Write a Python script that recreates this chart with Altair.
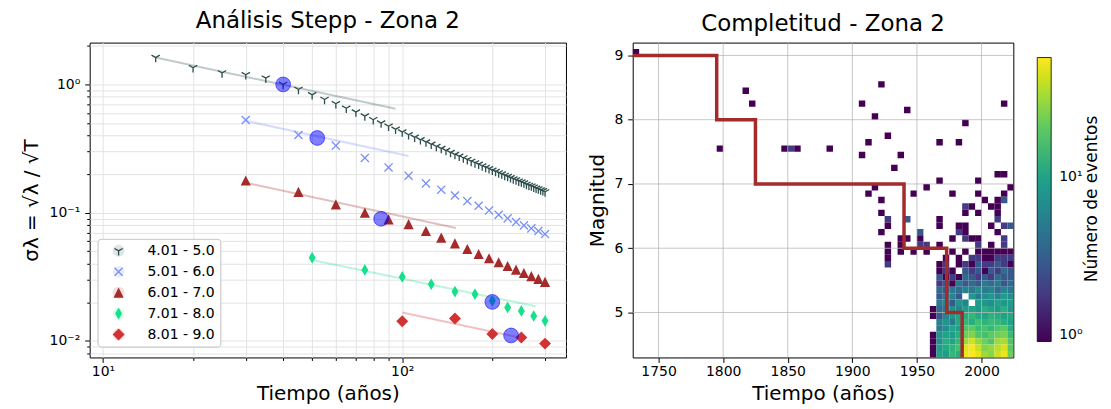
import altair as alt
import pandas as pd

FONT = "DejaVu Sans"

# ---------------- Left panel data (Stepp analysis) ----------------
series_names = ["4.01 - 5.0", "5.01 - 6.0", "6.01 - 7.0", "7.01 - 8.0", "8.01 - 9.0"]
series_colors = ["#2f4f4f", "#7890f6", "#a52a2a", "#16e08c", "#d23232"]
fit_colors = ["#2f4f4f", "#7890f6", "#a52a2a", "#16e08c", "#d23232"]

t1 = [15, 20, 25, 30, 35, 40, 45, 50, 55, 60, 65, 70, 75, 80, 85, 90, 95, 100,
      105, 110, 115, 120, 125, 130, 135, 140, 145, 150, 155, 160, 165, 170, 175,
      180, 185, 190, 195, 200, 205, 210, 215, 220, 225, 230, 235, 240, 245, 250,
      255, 260, 265, 270, 275, 280, 285, 290, 295, 300]
s1 = [1.62, 1.35, 1.23, 1.19, 1.12, 1.00, 0.914, 0.830, 0.764, 0.707, 0.652,
      0.609, 0.567, 0.531, 0.500, 0.472, 0.447, 0.425, 0.405, 0.387, 0.370,
      0.355, 0.341, 0.328, 0.316, 0.305, 0.294, 0.284, 0.275, 0.267, 0.259,
      0.251, 0.244, 0.238, 0.231, 0.225, 0.220, 0.214, 0.209, 0.204, 0.200,
      0.195, 0.191, 0.187, 0.183, 0.180, 0.176, 0.173, 0.170, 0.166, 0.163,
      0.161, 0.158, 0.155, 0.153, 0.150, 0.148, 0.145]
t2 = [30, 45, 60, 75, 90, 105, 120, 135, 150, 165, 180, 195, 210, 225, 240, 255, 270, 285, 300]
s2 = [0.528, 0.403, 0.333, 0.267, 0.225, 0.194, 0.169, 0.151, 0.136, 0.123,
      0.113, 0.104, 0.0962, 0.0901, 0.0844, 0.0795, 0.0753, 0.0718, 0.068]
t3 = [30, 45, 60, 75, 90, 105, 120, 135, 150, 165, 180, 195, 210, 225, 240, 255, 270, 285, 300]
s3 = [0.178, 0.145, 0.116, 0.100, 0.0885, 0.0814, 0.0718, 0.0637, 0.0575, 0.052,
      0.0475, 0.044, 0.041, 0.0383, 0.0359, 0.0338, 0.0319, 0.0304, 0.0288]
t4 = [50, 75, 100, 125, 150, 175, 200, 225, 250, 275, 300]
s4 = [0.0445, 0.0357, 0.0315, 0.0276, 0.0242, 0.0231, 0.0205, 0.0182, 0.0171, 0.0156, 0.0143]
t5 = [100, 150, 200, 250, 300]
s5 = [0.0142, 0.0149, 0.0113, 0.0106, 0.0095]

# completeness points (blue circles)
circ_t = [40, 52, 85, 200, 231]
circ_s = [1.0, 0.382, 0.0895, 0.0201, 0.0110]

# fitted 1/sqrt(T) lines: start and end
fit_t0 = [15, 30, 30, 50, 100]
fit_s0 = [1.62, 0.52, 0.171, 0.0427, 0.0166]
fit_t1 = [95, 105, 151, 279, 246]
fit_s1 = [0.645, 0.276, 0.0758, 0.0186, 0.0106]

x_ticks_left = [10, 20, 30, 40, 50, 60, 70, 80, 90, 100, 200, 300]
y_ticks_left = [0.008, 0.009, 0.01, 0.02, 0.03, 0.04, 0.05, 0.06, 0.07, 0.08, 0.09,
                0.1, 0.2, 0.3, 0.4, 0.5, 0.6, 0.7, 0.8, 0.9, 1, 2]

# marker shapes (filled svg paths in the -1..1 box): tri_down, x, triangle, thin diamond, diamond
shape_paths = [
    "M0.11,0.8L0.11,0.064L0.748,-0.305L0.638,-0.495L0,-0.127L-0.638,-0.495L-0.748,-0.305L-0.11,0.064L-0.11,0.8Z",
    "M0.757,-0.601L0.156,0L0.757,0.601L0.601,0.757L0,0.156L-0.601,0.757L-0.757,0.601L-0.156,0L-0.757,-0.601L-0.601,-0.757L0,-0.156L0.601,-0.757Z",
    "M0,-0.85L0.85,0.85L-0.85,0.85Z",
    "M0,-0.98L0.58,0L0,0.98L-0.58,0Z",
    "M0,-1L1,0L0,1L-1,0Z",
]

# ---------------- Right panel data (completeness) ----------------
sp_year = [1730, 1795, 1815, 1820, 1845, 1850, 1855, 1880, 1905, 1905, 1910, 1910,
           1915, 1915, 1920, 1920, 1920, 1920, 1925, 1925, 1925, 1925, 1925, 1925,
           1925, 1930, 1935, 1935, 1935, 1935, 1940, 1940, 1940, 1945, 1945, 1950,
           1950, 1950, 1955, 1955, 1955, 1965, 1965, 1965, 1965, 1965, 1975, 1975,
           1980, 1980, 1980, 1985, 1985, 1985, 1985, 1985, 1985, 1990, 1990, 1995,
           1995, 1995, 1995, 1995, 2000, 2005, 2005, 2005, 2010, 2010, 2010, 2010,
           2010, 2010, 2015, 2015, 2015, 2015, 2015, 2015, 2015, 2020, 2020]
sp_mag = [9.0, 7.5, 8.4, 8.2, 7.5, 7.5, 7.5, 7.5, 8.2, 7.4, 7.6, 6.8,
          8.0, 6.9, 8.5, 6.7, 6.5, 6.2, 7.7, 6.4, 6.3, 6.0, 5.9, 5.8,
          5.7, 7.2, 7.4, 6.1, 6.0, 5.9, 8.1, 6.4, 6.1, 6.8, 5.9, 6.2,
          6.1, 6.0, 6.9, 6.0, 5.9, 7.6, 7.0, 6.4, 6.3, 6.0, 6.8, 6.1,
          7.6, 6.3, 6.2, 7.9, 6.6, 6.5, 6.3, 6.2, 6.1, 6.6, 6.1, 7.0,
          6.8, 6.5, 6.1, 6.0, 6.7, 6.6, 6.3, 6.0, 7.1, 6.7, 6.6, 6.5,
          6.4, 6.2, 8.2, 7.1, 6.8, 6.7, 6.3, 6.1, 6.0, 6.9, 6.3]
sp_count = [1, 1, 1, 1, 1, 2, 1, 1, 1, 1, 1, 1,
            1, 1, 1, 1, 1, 1, 1, 2, 1, 1, 1, 1,
            2, 1, 1, 1, 1, 1, 1, 3, 1, 1, 1, 3,
            1, 2, 1, 2, 1, 1, 1, 1, 1, 1, 1, 1,
            1, 1, 2, 1, 2, 1, 1, 1, 2, 1, 1, 1,
            1, 1, 1, 2, 1, 1, 1, 1, 1, 1, 1, 1,
            2, 1, 1, 1, 1, 3, 2, 2, 2, 1, 3]

dense_years = [1960, 1965, 1970, 1975, 1980, 1985, 1990, 1995, 2000, 2005, 2010, 2015, 2020]
dense_mags = [5.9, 5.8, 5.7, 5.6, 5.5, 5.4, 5.3, 5.2, 5.1, 5.0, 4.9, 4.8, 4.7, 4.6, 4.5, 4.4, 4.3]
dense_counts = [
    [0, 0, 0, 1, 0, 1, 0, 1, 1, 1, 1, 1, 1],
    [0, 0, 1, 0, 1, 0, 2, 2, 1, 1, 2, 2, 2],
    [0, 1, 2, 0, 1, 2, 1, 3, 2, 2, 3, 2, 1],
    [0, 1, 2, 1, 0, 3, 2, 3, 1, 3, 2, 4, 3],
    [0, 3, 1, 2, 1, 4, 3, 2, 3, 2, 4, 3, 3],
    [0, 2, 3, 1, 5, 3, 4, 3, 5, 4, 5, 3, 4],
    [0, 4, 3, 5, 4, 6, 5, 7, 5, 6, 4, 6, 5],
    [0, 3, 5, 6, 3, 0, 8, 5, 7, 8, 6, 9, 7],
    [0, 5, 6, 3, 8, 6, 0, 9, 8, 7, 10, 8, 9],
    [1, 4, 5, 7, 6, 9, 10, 8, 12, 10, 9, 12, 8],
    [1, 3, 6, 8, 10, 12, 14, 11, 10, 13, 12, 10, 11],
    [0, 6, 8, 5, 11, 14, 12, 16, 13, 15, 14, 12, 10],
    [0, 5, 7, 10, 9, 18, 20, 15, 17, 14, 18, 20, 12],
    [1, 8, 10, 9, 12, 22, 25, 18, 16, 20, 22, 24, 15],
    [1, 7, 12, 10, 14, 30, 40, 28, 22, 18, 30, 32, 18],
    [1, 9, 11, 13, 16, 45, 50, 38, 25, 28, 35, 42, 20],
    [1, 10, 9, 14, 12, 48, 53, 45, 30, 26, 40, 48, 22],
]
bin_years = 5
bin_mag = 0.1

comp_years = [1730, 1795, 1825, 1940, 1973, 1985]
comp_mags = [9, 8, 7, 6, 5, 4.0]

grid_years = [1750, 1800, 1850, 1900, 1950, 2000]
grid_mags = [5, 6, 7, 8, 9]
cbar_label = "Número de eventos"

# ---------------- Build tables ----------------
rows = []
for name, ts, ss in zip(series_names, [t1, t2, t3, t4, t5], [s1, s2, s3, s4, s5]):
    for t, s in zip(ts, ss):
        rows.append({"series": name, "T": t, "sigma": s})
pts = pd.DataFrame(rows)
circ = pd.DataFrame({"T": circ_t, "sigma": circ_s})

xs = alt.Scale(type="log", domain=[9.03, 352.4], nice=False)
ys = alt.Scale(type="log", domain=[0.00741, 2.12], nice=False)

sup_x = "datum.value == 10 ? '10\u00b9' : (datum.value == 100 ? '10\u00b2' : '')"
sup_y = "datum.value == 1 ? '10\u2070' : (datum.value == 0.1 ? '10\u207b\u00b9' : (datum.value == 0.01 ? '10\u207b\u00b2' : ''))"

xaxis = alt.Axis(values=x_ticks_left, labelExpr=sup_x, title="Tiempo (años)",
                 grid=True, gridColor="#e3e3e3", domain=False, tickColor="black",
                 tickSize={"condition": {"test": "datum.value == 10 || datum.value == 100", "value": 5}, "value": 3},
                 labelFontSize=14, titleFontSize=20, labelPadding=2, titlePadding=5,
                 labelFlush=False, labelOverlap=False)
yaxis = alt.Axis(values=y_ticks_left, labelExpr=sup_y, title="σλ = √λ / √T",
                 grid=True, gridColor="#e3e3e3", domain=False, tickColor="black",
                 tickSize={"condition": {"test": "datum.value == 1 || datum.value == 0.1 || datum.value == 0.01", "value": 5}, "value": 3},
                 labelFontSize=14, titleFontSize=20, labelPadding=5, titlePadding=8,
                 labelFlush=False, labelOverlap=False)

# legend symbol colours, one per series (evaluated per legend entry)
fill_expr = "'%s'" % series_colors[0]
for n, c in zip(series_names[1:], series_colors[1:]):
    fill_expr = "datum.value === '%s' ? '%s' : (%s)" % (n, c, fill_expr)

leg = alt.Legend(title=None, orient="none", legendX=8, legendY=197,
                 fillColor="rgba(255,255,255,0.85)", strokeColor="#cccccc",
                 cornerRadius=3, padding=5, rowPadding=7, labelFontSize=14,
                 labelFont=FONT, symbolOffset=9, labelOffset=22, symbolSize=144,
                 symbolStrokeWidth=0, symbolOpacity=1,
                 symbolFillColor=alt.ExprRef(fill_expr))

layers = []
for i in range(5):
    fd = pd.DataFrame({"T": [fit_t0[i], fit_t1[i]], "sigma": [fit_s0[i], fit_s1[i]]})
    layers.append(alt.Chart(fd).mark_line(color=fit_colors[i], opacity=0.3, strokeWidth=2).encode(
        x=alt.X("T:Q", scale=xs, axis=xaxis), y=alt.Y("sigma:Q", scale=ys, axis=yaxis)))

points = alt.Chart(pts).mark_point(filled=True, opacity=1, strokeWidth=0, size=144).encode(
    x=alt.X("T:Q", scale=xs, axis=xaxis),
    y=alt.Y("sigma:Q", scale=ys, axis=yaxis),
    color=alt.Color("series:N", scale=alt.Scale(range=series_colors), legend=leg),
    shape=alt.Shape("series:N", scale=alt.Scale(range=shape_paths), legend=leg),
)
circles = alt.Chart(circ).mark_circle(size=220, fill="#0000ff", fillOpacity=0.5,
                                      stroke="#0000ff", strokeOpacity=0.55, strokeWidth=1, opacity=1).encode(
    x=alt.X("T:Q", scale=xs, axis=xaxis), y=alt.Y("sigma:Q", scale=ys, axis=yaxis))

left = alt.layer(*layers, points, circles).properties(
    width=478, height=316, title="Análisis Stepp - Zona 2")

# right
hrows = []
for y, m, c in zip(sp_year, sp_mag, sp_count):
    hrows.append({"y0": y, "m0": m, "count": c})
for ri, m in enumerate(dense_mags):
    for ci, y in enumerate(dense_years):
        c = dense_counts[ri][ci]
        if c > 0:
            hrows.append({"y0": y, "m0": m, "count": c})
hdf = pd.DataFrame(hrows)
hdf["y1"] = hdf["y0"] + bin_years
hdf["m1"] = hdf["m0"] + bin_mag

xr = alt.Scale(domain=[1730, 2024.6], nice=False, zero=False)
yr = alt.Scale(domain=[4.3, 9.2], nice=False, zero=False)
csc = alt.Scale(type="log", domain=[1, 53], scheme="viridis")

xaxis_r = alt.Axis(values=grid_years, format="d", title="Tiempo (años)",
                   grid=False, domain=False, tickColor="black", tickSize=5,
                   labelFontSize=14, titleFontSize=20, labelPadding=2,
                   titlePadding=5, labelFlush=False)
yaxis_r = alt.Axis(values=grid_mags, format="d", title="Magnitud",
                   grid=False, domain=False, tickColor="black", tickSize=5,
                   labelFontSize=14, titleFontSize=20, labelPadding=5, titlePadding=6)

cleg = alt.Legend(type="gradient", title=None, orient="none", legendX=406, legendY=15,
                  direction="vertical", gradientLength=285, gradientThickness=14,
                  values=[1, 10],
                  labelExpr="datum.value == 1 ? '10\u2070' : (datum.value == 10 ? '10\u00b9' : '')",
                  labelFontSize=14, labelFont=FONT, gradientStrokeColor="black",
                  gradientStrokeWidth=0.8, labelOffset=8, labelBaseline="middle",
                  labelOverlap=False, padding=0)

heat = alt.Chart(hdf).mark_rect(clip=True).encode(
    x=alt.X("y0:Q", scale=xr, axis=xaxis_r),
    x2="y1:Q",
    y=alt.Y("m0:Q", scale=yr, axis=yaxis_r),
    y2="m1:Q",
    color=alt.Color("count:Q", scale=csc, legend=cleg),
)
gx = alt.Chart(pd.DataFrame({"yr": grid_years})).mark_rule(color="#b0b0b0", strokeWidth=0.9, opacity=0.8).encode(
    x=alt.X("yr:Q", scale=xr, axis=xaxis_r))
gy = alt.Chart(pd.DataFrame({"mg": grid_mags})).mark_rule(color="#b0b0b0", strokeWidth=0.9, opacity=0.8).encode(
    y=alt.Y("mg:Q", scale=yr, axis=yaxis_r))
step = alt.Chart(pd.DataFrame({"yr": comp_years, "mg": comp_mags})).mark_line(
    color="#a52a2a", strokeWidth=3.5, interpolate="step-after", clip=True).encode(
    x=alt.X("yr:Q", scale=xr, axis=xaxis_r), y=alt.Y("mg:Q", scale=yr, axis=yaxis_r))
cbt = alt.Chart(pd.DataFrame({"t": [cbar_label]})).mark_text(
    angle=270, fontSize=17, font=FONT, color="black", align="center", baseline="middle").encode(
    text="t:N", x=alt.value(461), y=alt.value(157))

right = alt.layer(heat, gx, gy, step, cbt).properties(
    width=382, height=316, title="Completitud - Zona 2")

chart = alt.hconcat(left, right, spacing=20).properties(
    padding={"left": 12, "top": 0, "right": 2, "bottom": 0}
).configure_view(stroke="black", strokeWidth=1).configure_axis(
    labelFont=FONT, titleFont=FONT, titleFontWeight="normal", labelColor="black", titleColor="black"
).configure_title(font=FONT, fontSize=23, fontWeight="normal", anchor="middle", offset=6, color="black")

chart.save("out.html", embed_options={"renderer": "svg", "actions": False})
